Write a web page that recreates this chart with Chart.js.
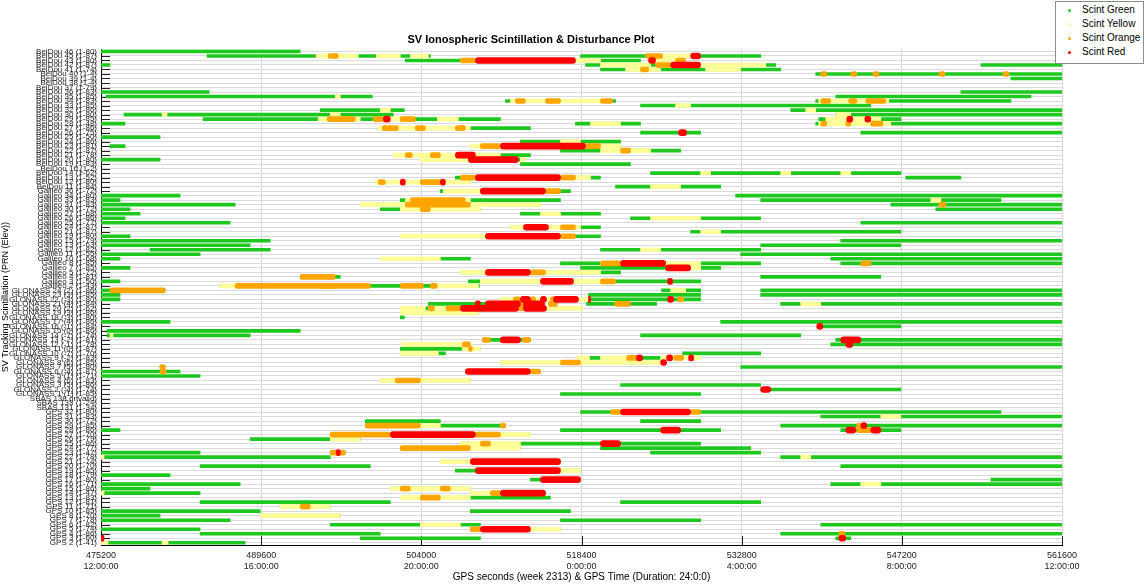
<!DOCTYPE html>
<html>
<head>
<meta charset="utf-8">
<title>SV Ionospheric Scintillation & Disturbance Plot</title>
<script src="https://cdn.jsdelivr.net/npm/chart.js@4.4.1/dist/chart.umd.min.js"></script>
<style>
  html, body { margin: 0; padding: 0; background: #fff; }
  #wrap { position: relative; width: 1146px; height: 585px; }
  #legend {
    position: absolute; left: 1055px; top: 1px; width: 87px; height: 61px;
    border: 1px solid #8c8c8c; background: #fff;
    font: 10px "Liberation Sans", Arial, sans-serif; color: #000;
  }
  #legend div { position: absolute; left: 26px; height: 12px; line-height: 12px; white-space: nowrap; }
  #legend span { position: absolute; left: -14px; top: 5px; width: 3px; height: 3px; border-radius: 50%; }
</style>
</head>
<body>
<div id="wrap">
  <canvas id="scint" width="1146" height="585"></canvas>
  <div id="legend"></div>
</div>
<script>
// ---------- data ----------
const rowLabels = [
  "BeiDou 46 (1-80)", "BeiDou 45 (1-87)", "BeiDou 43 (1-80)", "BeiDou 42 (1-87)", "BeiDou 41 (1-74)",
  "BeiDou 40 (1-4)", "BeiDou 39 (1-4)", "BeiDou 38 (1-4)", "BeiDou 37 (1-79)", "BeiDou 36 (1-83)",
  "BeiDou 35 (1-85)", "BeiDou 34 (1-83)", "BeiDou 33 (1-85)", "BeiDou 32 (1-86)", "BeiDou 30 (1-80)",
  "BeiDou 29 (1-85)", "BeiDou 28 (1-48)", "BeiDou 27 (1-86)", "BeiDou 26 (1-75)", "BeiDou 25 (1-50)",
  "BeiDou 24 (1-86)", "BeiDou 23 (1-81)", "BeiDou 22 (1-87)", "BeiDou 21 (1-78)", "BeiDou 20 (1-80)",
  "BeiDou 19 (1-83)", "BeiDou 16 (1-2)", "BeiDou 14 (1-62)", "BeiDou 13 (1-52)", "BeiDou 12 (1-80)",
  "BeiDou 11 (1-84)",
  "Galileo 36 (1-72)", "Galileo 34 (1-80)", "Galileo 33 (1-83)", "Galileo 31 (1-83)", "Galileo 30 (1-72)",
  "Galileo 27 (1-68)", "Galileo 26 (1-86)", "Galileo 25 (1-77)", "Galileo 24 (1-87)", "Galileo 21 (1-87)",
  "Galileo 19 (1-80)", "Galileo 15 (1-79)", "Galileo 13 (1-63)", "Galileo 12 (1-82)", "Galileo 11 (1-55)",
  "Galileo 10 (1-68)", "Galileo 8 (1-85)", "Galileo 7 (1-85)", "Galileo 5 (1-72)", "Galileo 4 (1-81)",
  "Galileo 3 (1-50)", "Galileo 2 (1-43)",
  "GLONASS 24 (2) (1-86)", "GLONASS 23 (3) (1-85)", "GLONASS 22 (-3) (1-80)", "GLONASS 21 (4) (1-84)",
  "GLONASS 20 (2) (1-62)", "GLONASS 19 (3) (1-86)", "GLONASS 18 (-3) (1-80)", "GLONASS 17 (4) (1-86)",
  "GLONASS 16 (-1) (1-84)", "GLONASS 15 (0) (1-86)", "GLONASS 14 (-7) (1-74)", "GLONASS 13 (-2) (1-81)",
  "GLONASS 12 (-1) (1-78)", "GLONASS 11 (0) (1-87)", "GLONASS 10 (-7) (1-70)", "GLONASS 9 (-2) (1-83)",
  "GLONASS 8 (6) (1-85)", "GLONASS 7 (5) (1-80)", "GLONASS 6 (-4) (1-87)", "GLONASS 5 (1) (1-71)",
  "GLONASS 4 (6) (1-83)", "GLONASS 3 (5) (1-86)", "GLONASS 2 (-4) (1-74)", "GLONASS 1 (1) (1-85)",
  "SBAS 138 (invalid)", "SBAS 133 (1-24)", "SBAS 131 (1-34)",
  "GPS 32 (1-80)", "GPS 31 (1-83)", "GPS 30 (1-72)", "GPS 29 (1-85)", "GPS 28 (1-86)",
  "GPS 27 (1-70)", "GPS 26 (1-79)", "GPS 25 (1-86)", "GPS 24 (1-77)", "GPS 23 (1-47)",
  "GPS 22 (1-78)", "GPS 21 (1-74)", "GPS 20 (1-70)", "GPS 19 (1-85)", "GPS 18 (1-79)",
  "GPS 17 (1-80)", "GPS 16 (1-71)", "GPS 15 (1-86)", "GPS 14 (1-47)", "GPS 13 (1-83)",
  "GPS 12 (1-81)", "GPS 11 (1-71)", "GPS 10 (1-85)", "GPS 8 (1-70)", "GPS 7 (1-78)",
  "GPS 6 (1-82)", "GPS 5 (1-74)", "GPS 4 (1-86)", "GPS 3 (1-60)", "GPS 2 (1-41)"
];

const xTickSeconds = [475200, 489600, 504000, 518400, 532800, 547200, 561600];
const xTickClock = ["12:00:00", "16:00:00", "20:00:00", "0:00:00", "4:00:00", "8:00:00", "12:00:00"];

// [row, start GPS s, end GPS s] -- green = whole tracked pass, other colours drawn on top
const greenSpans = [
  [0,475200,493110],
  [1,484740,504810],[1,518310,534510],
  [2,502560,523710],
  [3,475200,476010],[3,518760,535860],[3,554310,561600],
  [4,520110,536310],
  [5,539460,561600],
  [6,557010,561600],
  [9,475200,484920],[9,552510,561600],
  [10,475650,499590],[10,541260,558810],
  [11,511560,521460],[11,539460,557010],
  [12,523710,544410],
  [13,494910,502470],[13,537210,561600],
  [14,477270,501480],[14,541260,561600],
  [15,484380,511110],[15,539730,547110],
  [16,475200,477360],[16,517860,523710],[16,539460,561600],
  [17,500130,513810],
  [18,523710,529110],[18,543510,561600],
  [19,475200,480510],
  [20,512910,521910],
  [21,476010,477360],[21,508410,521910],
  [22,516510,527310],
  [23,501480,513810],
  [24,475200,480510],[24,503910,513360],
  [25,512910,522810],
  [27,524610,547110],
  [28,507060,520110],[28,547560,552510],
  [29,499860,508410],
  [30,521460,530910],
  [31,505710,517410],
  [32,475200,482310],[32,532260,561600],
  [33,475200,476910],[33,502110,516510],[33,534510,556110],
  [34,475200,487260],[34,498510,514710],[34,546210,561600],
  [35,475200,477810],[35,500310,509310],[35,550260,561600],
  [36,475200,478710],[36,512910,520110],
  [37,475200,477360],[37,522810,534510],
  [38,475200,486810],[38,543510,561600],
  [39,512010,520110],
  [40,528210,547110],
  [41,475200,477810],[41,502110,520110],
  [42,475200,490410],[42,541710,561600],
  [43,475200,488610],[43,534510,547110],
  [44,479610,490410],[44,520110,534510],
  [45,475200,484110],[45,532710,561600],
  [46,475200,476910],[46,500310,508410],[46,540810,561600],
  [47,516510,534510],[47,541710,561600],
  [48,475200,477810],[48,518310,530910],
  [49,507510,521910],
  [50,493110,496710],[50,534510,545310],
  [51,475200,476910],[51,508230,529110],
  [52,485910,509220],
  [53,475200,480960],[53,525600,529110],[53,534510,561600],
  [54,475200,476910],[54,519030,529110],[54,534510,561600],
  [55,475200,476910],[55,511110,529110],
  [56,504630,512910],[56,518850,525150],[56,536310,561600],
  [57,502110,518490],
  [58,502110,509130],
  [59,502110,502470],
  [60,475200,481410],[60,530910,561600],
  [61,539730,547110],
  [62,475740,493110],
  [63,475740,488610],[63,523710,538110],
  [64,509490,513810],[64,541260,561600],
  [65,502200,508410],[65,540810,561600],
  [66,502110,509310],
  [67,502110,506160],[67,527490,534510],
  [68,518040,529110],
  [69,511110,525510],
  [70,480510,480960],[70,532710,561600],
  [71,475200,482310],[71,507960,514710],
  [72,475200,484110],
  [73,500310,508410],
  [74,521910,534510],
  [75,534510,547110],
  [76,516510,529110],
  [80,518310,556110],
  [81,539910,561600],
  [82,498960,505710],[82,523710,529110],
  [83,498960,511560],[83,536310,561600],
  [84,475200,476910],[84,516510,530910],[84,541710,547110],
  [85,495810,513810],
  [86,488610,498510],
  [87,507510,529110],
  [88,502110,512910],[88,520110,533610],
  [89,475200,484110],[89,495810,497160],[89,524610,534510],
  [90,475200,495810],[90,536310,561600],
  [91,505710,516510],
  [92,484110,499410],[92,541710,561600],
  [93,507060,518310],
  [94,475200,481410],
  [95,513810,518310],[95,555210,561600],
  [96,475200,487710],[96,540810,561600],
  [97,475200,479610],[97,501210,508410],
  [98,475200,484110],[98,508410,515160],
  [99,502110,515610],
  [100,484110,501210],[100,521910,534510],
  [101,491310,495810],
  [102,475200,489510],[102,508410,517410],
  [103,475200,480510],[103,489510,496710],
  [104,475200,486810],[104,516510,529110],
  [105,495810,509310],[105,539910,561600],
  [106,475200,484110],[106,508410,516510],
  [107,484110,500310],[107,536310,561600],
  [108,498510,509310],[108,541260,542610],
  [109,475200,488160]
];
const yellowSpans = [
  [1,494550,498330],[1,499950,502110],[1,503010,504630],[1,525690,528210],
  [2,517860,520110],[2,525060,526860],
  [3,520110,524610],[3,529110,534960],
  [4,522360,525510],[4,529560,532710],
  [10,496260,496710],
  [11,512010,520110],[11,539730,546030],
  [12,526860,528210],
  [13,500310,501210],[13,538560,539460],
  [14,480690,481140],[14,495810,496710],[14,541260,542610],
  [15,494730,498510],[15,501210,503010],[15,505440,507330],[15,540360,545310],
  [16,519210,521910],[16,539730,546210],
  [17,500130,508410],
  [20,516510,518310],
  [21,508410,511110],[21,518760,521910],
  [22,520110,524610],
  [23,501480,511110],
  [24,503910,508230],[24,512910,513360],
  [27,529110,530010],[27,536310,537210],[27,541710,542610],
  [28,517860,519210],
  [29,499860,508410],
  [30,524610,527310],
  [31,505980,509310],
  [33,502560,508410],[33,549810,550710],
  [34,498510,514710],
  [35,502110,509310],
  [36,514710,516510],
  [37,524610,529110],
  [39,512010,513180],[39,515430,518310],
  [40,529110,530910],
  [41,502110,509760],
  [44,523710,525510],
  [46,500310,505710],
  [47,520110,521910],[47,525960,529110],
  [48,528210,529110],
  [49,507510,509760],[49,515160,520110],
  [51,509310,514710],[51,517680,520110],
  [52,485910,487710],[52,505440,509130],
  [53,526410,527760],
  [55,511110,519210],
  [56,538110,539910],
  [57,502110,504360],[57,505170,506160],[57,515250,518490],
  [58,502110,509130],
  [63,476010,476280],
  [65,502200,508410],
  [66,507690,509310],
  [67,502110,505530],
  [68,518040,519120],[68,520110,523710],[68,525510,529110],
  [69,511110,525510],
  [73,500310,508410],
  [81,545310,547110],
  [83,503910,505710],
  [85,511110,513810],
  [86,495810,498510],
  [87,507510,512910],
  [88,508410,512910],
  [90,475200,475470],[90,538110,539010],
  [91,505710,508410],
  [93,516510,518310],
  [96,543510,545310],
  [97,501210,508410],
  [98,475200,475470],[98,508410,510210],
  [99,502110,508410],
  [101,491310,495810],
  [103,489510,496710],
  [105,503910,507510],
  [106,513810,516510],
  [109,475200,475830],[109,480690,481230]
];
const orangeSpans = [
  [1,495630,496530],[1,524160,525690],
  [2,507510,508860],[2,526860,527760],
  [3,525060,526410],
  [4,523710,524430],
  [5,539910,540450],[5,542610,543150],[5,544590,545130],[5,550530,551070],[5,556290,556830],
  [11,512460,513360],[11,515160,516510],[11,520110,521190],[11,539910,540810],[11,542430,543150],[11,543960,545760],
  [15,495540,498060],[15,499680,500580],[15,502110,503460],
  [16,539910,540450],[16,542160,542610],[16,544410,545490],
  [17,500490,501930],[17,503460,504360],[17,507060,507960],
  [21,509310,511110],[21,518760,520110],
  [22,521910,522810],
  [23,502560,503190],[23,504810,505710],
  [28,507510,508860],[28,516510,517860],
  [29,500130,500760],[29,503910,505710],
  [31,515160,516510],
  [33,503010,507960],
  [34,502560,508410],[34,550530,551160],
  [35,503910,504810],
  [39,516510,517860],
  [41,516510,517860],
  [47,520110,521910],[47,543510,544410],
  [49,513810,515160],
  [50,493110,496260],
  [51,520110,521460],
  [52,487260,496260],[52,494910,499410],[52,502110,504180],[52,504810,505440],
  [53,476010,480960],
  [55,512280,512910],[55,513810,514260],[55,515610,516150],[55,527040,527580],
  [56,512730,513360],[56,515430,516240],[56,521370,522810],
  [57,504630,505170],[57,506250,507510],[57,512730,513180],
  [64,509490,510210],[64,513090,513810],
  [65,507690,508410],
  [66,508230,508590],
  [68,522450,523710],[68,526680,527580],
  [69,516510,518310],
  [70,480510,480960],
  [71,480510,481050],[71,513810,514710],
  [73,501660,503910],
  [80,521010,521910],[80,528210,529110],
  [83,498960,503910],[83,511110,511560],[83,543150,543510],
  [84,543150,544410],
  [85,495810,501210],[85,508860,511110],
  [87,509310,510210],
  [88,502110,508410],
  [89,495810,497160],
  [97,502110,503010],[97,505710,506610],
  [98,510210,511110],
  [99,503910,505710],
  [101,493110,494010],
  [106,508410,509310],
  [107,541530,542070]
];
const redSpans = [
  [1,528210,529110],
  [2,508860,517860],[2,524430,525060],
  [3,526410,529110],
  [15,500580,501210],[15,542250,542790],[15,543870,544410],
  [18,527130,527850],
  [21,511110,518760],
  [23,507060,508860],
  [24,508230,512730],
  [28,508860,516510],
  [29,502110,502560],[29,505710,506160],
  [31,509310,515160],
  [39,513180,515430],
  [41,509760,516510],
  [47,521910,525960],
  [48,525960,528210],
  [49,509760,513810],
  [51,514710,517680],[51,526140,526590],
  [55,512910,513810],[55,514710,515250],[55,515880,518130],[55,519030,519210],[55,526140,526680],
  [56,508860,509310],[56,509760,512910],[56,513180,515070],
  [57,507510,512730],[57,513180,515250],
  [61,539550,540090],
  [64,511110,512910],[64,541710,543510],
  [65,542160,542790],
  [68,523350,523890],[68,526050,526590],[68,528030,528480],
  [69,525510,526050],
  [71,507960,513810],
  [75,534510,535410],
  [80,521910,528210],
  [83,543510,544050],
  [84,525510,527310],[84,542160,543060],[84,544410,545310],
  [85,501210,508860],
  [87,520110,521910],
  [89,496350,496710],
  [91,508410,516510],
  [93,508860,516510],
  [95,514710,518310],
  [98,511110,515160],
  [106,509310,513810],
  [108,475200,475470],[108,541530,542160]
];

// ---------- drawing ----------
Chart.defaults.font.family = '"Liberation Sans", Arial, sans-serif';

const COLORS = {
  green: "#1ec81e",
  yellow: "#ffff99",
  orange: "#ffa500",
  red: "#ff0000"
};

function toBars(spans) {
  return spans.map(([r, a, b]) => ({ x: [a, b], y: rowLabels[r] }));
}

// short black ticks pointing into the plot, like the original
const innerTicks = {
  id: "innerTicks",
  beforeDatasetsDraw(chart) {
    const { ctx, chartArea, scales } = chart;
    ctx.save();
    ctx.strokeStyle = "#222";
    ctx.lineWidth = 1;
    ctx.beginPath();
    rowLabels.forEach((_, i) => {
      const py = Math.round(scales.y.getPixelForValue(i)) + 0.5;
      ctx.moveTo(chartArea.left, py);
      ctx.lineTo(chartArea.left + 9, py);
    });
    xTickSeconds.forEach(v => {
      const px = Math.round(scales.x.getPixelForValue(v)) + 0.5;
      ctx.moveTo(px, chartArea.bottom);
      ctx.lineTo(px, chartArea.bottom - 9);
    });
    ctx.stroke();
    ctx.restore();
  }
};

const datasets = [
  { label: "Scint Red", data: toBars(redSpans), backgroundColor: COLORS.red, barThickness: 6, borderRadius: 3, order: 0 },
  { label: "Scint Orange", data: toBars(orangeSpans), backgroundColor: COLORS.orange, barThickness: 5, borderRadius: 2, order: 1 },
  { label: "Scint Yellow", data: toBars(yellowSpans), backgroundColor: COLORS.yellow, barThickness: 4, order: 2 },
  { label: "Scint Green", data: toBars(greenSpans), backgroundColor: COLORS.green, barThickness: 3, order: 3 }
].map(d => Object.assign(d, { grouped: false, borderSkipped: false }));

new Chart(document.getElementById("scint").getContext("2d"), {
  type: "bar",
  data: { labels: rowLabels, datasets },
  options: {
    indexAxis: "y",
    responsive: false,
    animation: false,
    layout: { padding: { top: 33, right: 84, left: 0, bottom: 0 } },
    plugins: {
      legend: { display: false },
      tooltip: { enabled: false },
      title: {
        display: true,
        text: "SV Ionospheric Scintillation & Disturbance Plot",
        color: "#000",
        font: { size: 11, weight: "bold" },
        padding: { top: 0, bottom: 3 }
      }
    },
    scales: {
      x: {
        type: "linear",
        min: 475200,
        max: 561600,
        afterBuildTicks: s => { s.ticks = xTickSeconds.map(v => ({ value: v })); },
        ticks: {
          autoSkip: false,
          maxRotation: 0,
          color: "#222",
          font: { size: 9 },
          padding: 5,
          callback: (v, i) => [String(xTickSeconds[i]), xTickClock[i]]
        },
        grid: { color: "#d6d6d6", drawTicks: false },
        border: { color: "#000" },
        title: {
          display: true,
          text: "GPS seconds (week 2313) & GPS Time (Duration: 24:0:0)",
          color: "#000",
          font: { size: 10 },
          padding: { top: 0, bottom: 2 }
        },
        afterFit: s => { s.height = 40; }
      },
      y: {
        type: "category",
        offset: true,
        ticks: { autoSkip: false, color: "#222", font: { size: 8 }, padding: 4 },
        grid: { color: "#dadada", offset: false, drawTicks: false },
        border: { color: "#000" },
        title: {
          display: true,
          text: "SV Tracking Scintillation (PRN (Elev))",
          color: "#000",
          font: { size: 9 },
          padding: 0
        },
        afterFit: s => { s.width = 101; }
      }
    }
  },
  plugins: [innerTicks]
});

// legend box (top right, vertical)
const legendItems = [
  ["Scint Green", COLORS.green],
  ["Scint Yellow", COLORS.yellow],
  ["Scint Orange", COLORS.orange],
  ["Scint Red", COLORS.red]
];
const legendBox = document.getElementById("legend");
legendItems.forEach(([name, color], i) => {
  const row = document.createElement("div");
  row.style.top = (2 + i * 14) + "px";
  row.innerHTML = `<span style="background:${color}"></span>${name}`;
  legendBox.appendChild(row);
});
</script>
</body>
</html>
